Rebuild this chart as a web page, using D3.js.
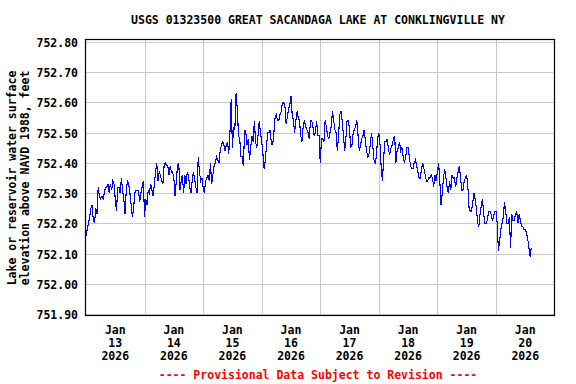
<!DOCTYPE html>
<html lang="en">
<head>
<meta charset="utf-8">
<title>USGS 01323500 Great Sacandaga Lake</title>
<script src="https://cdn.jsdelivr.net/npm/d3@7"></script>
<style>
  body { margin: 0; background: #fff; }
  svg text { font-family: "DejaVu Sans Mono", monospace; font-weight: bold; font-size: 11.5px; }
</style>
</head>
<body>
<script>
// gage height, half-hourly (ft NAVD 1988)
var start = new Date(2026, 0, 13, 0, 0);
var stepMinutes = 30;

var jan13 = [752.16,752.18,752.20,752.22,752.25,752.26,752.21,752.20,752.25,752.23,
  752.32,752.29,752.28,752.29,752.28,752.30,752.32,752.32,752.33,752.30,
  752.33,752.31,752.34,752.33,752.28,752.24,752.32,752.32,752.30,752.35,
  752.31,752.28,752.23,752.31,752.34,752.33,752.30,752.26,752.22,752.25,
  752.30,752.31,752.31,752.31,752.27,752.30,752.32,752.34];
var jan14 = [752.22,752.28,752.26,752.31,752.30,752.33,752.31,752.29,752.33,752.37,
  752.40,752.34,752.37,752.36,752.34,752.33,752.39,752.40,752.39,752.39,
  752.36,752.39,752.37,752.37,752.35,752.29,752.34,752.39,752.40,752.31,
  752.34,752.36,752.30,752.36,752.33,752.37,752.36,752.32,752.30,752.34,
  752.37,752.35,752.32,752.30,752.42,752.37,752.34,752.35];
var jan15 = [752.32,752.30,752.34,752.35,752.36,752.34,752.40,752.33,752.36,752.39,
  752.40,752.42,752.41,752.40,752.44,752.46,752.47,752.46,752.44,752.46,
  752.47,752.43,752.50,752.61,752.45,752.52,752.51,752.63,752.58,752.49,
  752.48,752.42,752.42,752.39,752.51,752.50,752.46,752.48,752.41,752.45,
  752.49,752.47,752.54,752.47,752.45,752.49,752.54,752.50];
var jan16 = [752.47,752.43,752.38,752.41,752.46,752.50,752.50,752.51,752.46,752.46,
  752.50,752.55,752.56,752.54,752.54,752.56,752.57,752.60,752.60,752.59,
  752.53,752.55,752.58,752.59,752.62,752.56,752.54,752.50,752.54,752.57,
  752.55,752.54,752.49,752.47,752.52,752.54,752.52,752.51,752.50,752.48,
  752.54,752.54,752.52,752.49,752.50,752.54,752.49,752.49];
var jan17 = [752.40,752.48,752.48,752.47,752.54,752.52,752.49,752.48,752.50,752.52,
  752.57,752.54,752.51,752.50,752.44,752.49,752.56,752.57,752.54,752.49,
  752.44,752.48,752.54,752.54,752.51,752.45,752.46,752.50,752.51,752.52,
  752.54,752.49,752.44,752.46,752.48,752.49,752.51,752.47,752.44,752.42,
  752.43,752.46,752.50,752.46,752.41,752.40,752.42,752.48];
var jan18 = [752.50,752.46,752.38,752.34,752.42,752.47,752.47,752.48,752.44,752.43,
  752.45,752.46,752.48,752.49,752.40,752.44,752.45,752.47,752.44,752.45,
  752.42,752.40,752.42,752.45,752.45,752.42,752.39,752.38,752.38,752.40,
  752.41,752.39,752.37,752.35,752.35,752.38,752.40,752.38,752.36,752.34,
  752.34,752.35,752.35,752.36,752.35,752.32,752.36,752.34];
var jan19 = [752.37,752.40,752.34,752.26,752.30,752.35,752.38,752.35,752.32,752.30,
  752.34,752.31,752.36,752.35,752.35,752.32,752.35,752.37,752.39,752.35,
  752.31,752.31,752.34,752.35,752.36,752.32,752.25,752.24,752.24,752.27,
  752.30,752.28,752.25,752.20,752.19,752.23,752.26,752.28,752.23,752.20,
  752.20,752.21,752.24,752.24,752.23,752.21,752.22,752.24];
var jan20 = [752.24,752.20,752.11,752.14,752.18,752.20,752.22,752.27,752.24,752.20,
  752.20,752.22,752.12,752.23,752.21,752.21,752.23,752.24,752.20,752.23,
  752.21,752.19,752.19,752.18,752.18,752.17,752.15,752.12,752.09,752.12];

var yTicks = [751.90,752.00,752.10,752.20,752.30,752.40,752.50,752.60,752.70,752.80];
var dayLabels = ["13","14","15","16","17","18","19","20"];

var title = "USGS 01323500 GREAT SACANDAGA LAKE AT CONKLINGVILLE NY";
var yTitle = ["Lake or reservoir water surface", "elevation above NAVD 1988, feet"];
var footer = "---- Provisional Data Subject to Revision ----";

var levels = [].concat(jan13, jan14, jan15, jan16, jan17, jan18, jan19, jan20);
var series = levels.map(function(v, i) {
  return { t: d3.timeMinute.offset(start, i * stepMinutes), v: v };
});

var w = 576, h = 384;

var svg = d3.select("body").append("svg")
  .attr("width", w)
  .attr("height", h);

var x = d3.scaleTime()
  .domain([start, d3.timeDay.offset(start, 8)])
  .range([86, 554.5]);

var y = d3.scaleLinear()
  .domain([751.9, 752.8])
  .range([314, 42]);

// grid
svg.append("g").selectAll("line")
  .data(yTicks)
  .enter().append("line")
  .attr("x1", 86).attr("x2", 554)
  .attr("y1", function(d) { return Math.round(y(d)) + 0.5; })
  .attr("y2", function(d) { return Math.round(y(d)) + 0.5; })
  .attr("stroke", "#c8c8c8");

var days = d3.timeDay.range(start, d3.timeDay.offset(start, 8));

svg.append("g").selectAll("line")
  .data(days.slice(1))
  .enter().append("line")
  .attr("x1", function(d) { return Math.round(x(d)) + 0.5; })
  .attr("x2", function(d) { return Math.round(x(d)) + 0.5; })
  .attr("y1", 40).attr("y2", 315)
  .attr("stroke", "#c8c8c8");

// the series
var line = d3.line()
  .x(function(d) { return x(d.t); })
  .y(function(d) { return y(d.v); });

svg.append("path")
  .datum(series)
  .attr("d", line)
  .attr("fill", "none")
  .attr("stroke", "#0000ff")
  .attr("stroke-width", 1.1)
  .attr("shape-rendering", "crispEdges");

// frame
svg.append("rect")
  .attr("x", 85.5).attr("y", 39.5)
  .attr("width", 469).attr("height", 276)
  .attr("fill", "none")
  .attr("stroke", "#000")
  .attr("stroke-width", 1.2);

// y labels
svg.append("g").selectAll("text")
  .data(yTicks)
  .enter().append("text")
  .attr("x", 78)
  .attr("y", function(d) { return y(d) + 5; })
  .attr("text-anchor", "end")
  .text(function(d) { return d.toFixed(2); });

// x labels, one per day at noon
var xl = svg.append("g").selectAll("text")
  .data(days)
  .enter().append("text")
  .attr("text-anchor", "middle")
  .attr("transform", function(d) { return "translate(" + x(d3.timeHour.offset(d, 12)) + ",0)"; });

xl.append("tspan").attr("x", 0).attr("y", 334).text("Jan");
xl.append("tspan").attr("x", 0).attr("y", 347).text(function(d, i) { return dayLabels[i]; });
xl.append("tspan").attr("x", 0).attr("y", 360).text("2026");

// titles
svg.append("text")
  .attr("x", 318).attr("y", 24)
  .attr("text-anchor", "middle")
  .text(title);

svg.append("g").selectAll("text")
  .data(yTitle)
  .enter().append("text")
  .attr("transform", function(d, i) { return "translate(" + (16 + i * 13) + ",178) rotate(-90)"; })
  .attr("text-anchor", "middle")
  .text(function(d) { return d; });

svg.append("text")
  .attr("x", 318).attr("y", 379)
  .attr("text-anchor", "middle")
  .attr("fill", "#ff0000")
  .text(footer);
</script>
</body>
</html>
